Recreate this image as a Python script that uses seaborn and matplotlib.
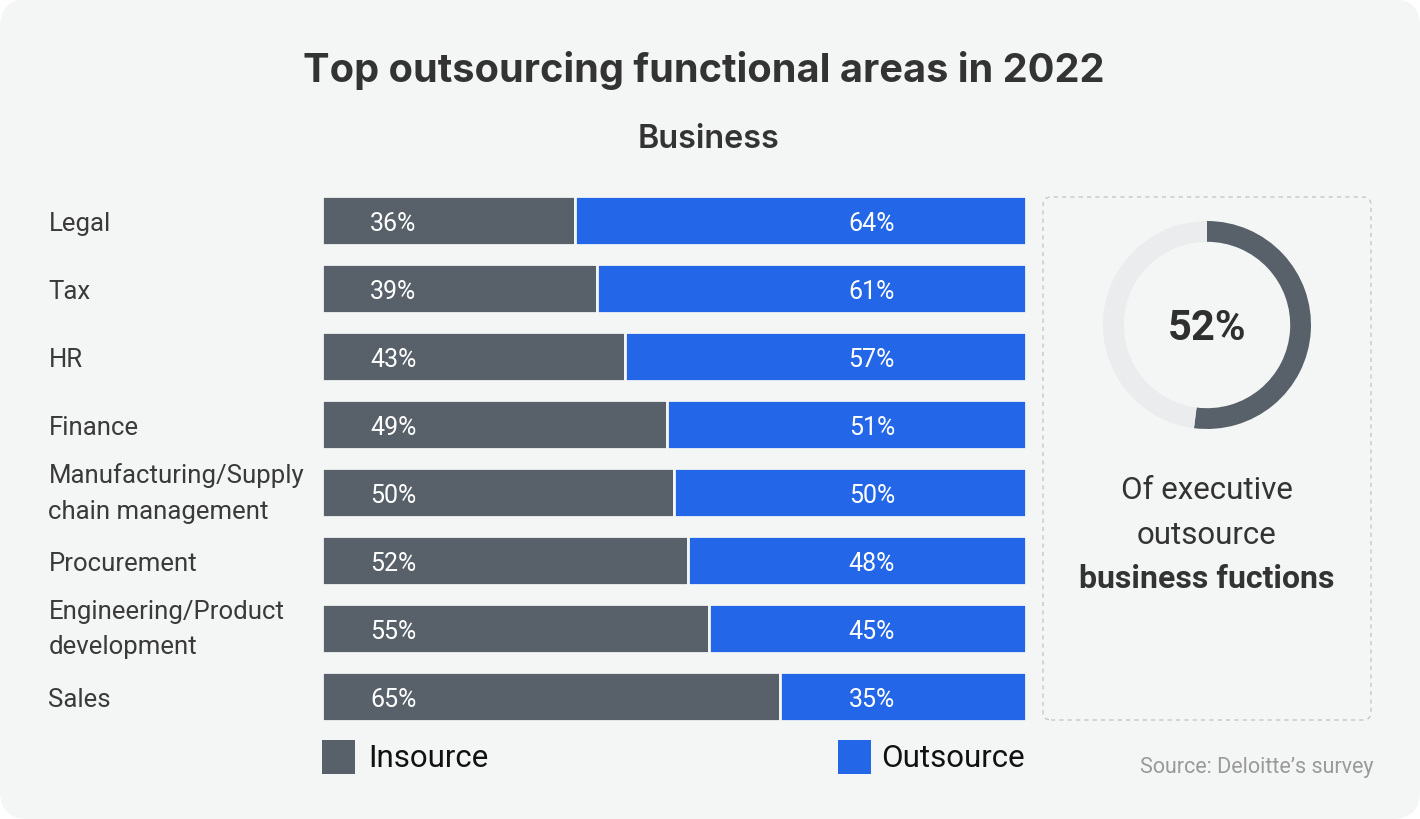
import numpy as np
import matplotlib
matplotlib.use("Agg")
import matplotlib.pyplot as plt
import seaborn as sns
from matplotlib.patches import FancyBboxPatch, Rectangle
from matplotlib.transforms import IdentityTransform

# ---------------- data ----------------
categories = ["Legal", "Tax", "HR", "Finance",
              "Manufacturing/Supply\nchain management", "Procurement",
              "Engineering/Product\ndevelopment", "Sales"]
insource = [36, 39, 43, 49, 50, 52, 55, 65]
outsource = [64, 61, 57, 51, 50, 48, 45, 35]
donut_value = 52
title = "Top outsourcing functional areas in 2022"
subtitle = "Business"
legend_labels = ["Insource", "Outsource"]
source_text = "Source: Deloitte\u2019s survey"

# ---------------- style ----------------
W, H = 1420, 820
BG = "#f4f5f5"
C_IN = "#58616a"
C_OUT = "#2367e8"
TXT = "#333333"

sns.set_style("white")
plt.rcParams["font.family"] = ["Roboto", "DejaVu Sans"]

fig = plt.figure(figsize=(W / 100, H / 100), dpi=100)
fig.patch.set_facecolor("white")

def fx(x):
    return x / W

def fy(y):
    return 1 - y / H

# card background (pixel coordinates)
card = FancyBboxPatch((0, 0), W, H, boxstyle="round,pad=0,rounding_size=28",
                      transform=IdentityTransform(), facecolor=BG,
                      edgecolor="none", zorder=-10)
fig.patches.append(card)

# dashed panel
panel = FancyBboxPatch((1043, H - 721), 1371 - 1043, 721 - 198,
                       boxstyle="round,pad=0,rounding_size=8",
                       transform=IdentityTransform(), facecolor="none",
                       edgecolor="#c4c6c8", linewidth=1.0, linestyle=(0, (3, 3)),
                       zorder=-5)
fig.patches.append(panel)

# titles
fig.text(fx(704), fy(71), title, ha="center", va="center", fontsize=28.6,
         fontweight="bold", color=TXT, family=["Inter", "Roboto", "DejaVu Sans"])
fig.text(fx(709), fy(140), subtitle, ha="center", va="center", fontsize=23.3,
         fontweight="semibold", color=TXT, family=["Inter", "Roboto", "DejaVu Sans"])

# ---------------- bars ----------------
ax = fig.add_axes([fx(322), fy(731.5), (1026 - 322) / W, 544 / H])
ax.set_facecolor("none")
pos = np.arange(len(categories))
bar_h = 0.73
sns.barplot(x=insource, y=categories, orient="h", color=C_IN, width=bar_h,
            edgecolor=BG, linewidth=2, saturation=1, ax=ax)
ax.barh(pos, outsource, left=insource, height=bar_h, color=C_OUT,
        edgecolor=BG, linewidth=2)
ax.set_xlim(0, 100)
ax.set_ylim(len(categories) - 0.5, -0.5)
ax.set_xlabel("")
ax.set_ylabel("")
ax.set_xticks([])
ax.set_yticks(pos)
ax.set_yticklabels(categories)
for s in ax.spines.values():
    s.set_visible(False)
ax.tick_params(axis="y", length=0, pad=197)
for lab in ax.get_yticklabels():
    lab.set_horizontalalignment("left")
    lab.set_fontsize(18.5)
    lab.set_color("#3a3a3a")
    lab.set_linespacing(1.6)
    if "\n" in lab.get_text():
        lab.set_verticalalignment("center")

IN_LABEL_X = 10.1
OUT_LABEL_X = 78.1
for i, (a, b) in enumerate(zip(insource, outsource)):
    ax.text(IN_LABEL_X, i + 0.04, f"{a}%", ha="center", va="center",
            color="white", fontsize=18)
    ax.text(OUT_LABEL_X, i + 0.04, f"{b}%", ha="center", va="center",
            color="white", fontsize=18)

# ---------------- legend ----------------
fig.patches.append(Rectangle((322, H - 775), 33, 34, transform=IdentityTransform(),
                             facecolor=C_IN, edgecolor="none"))
fig.text(fx(368), fy(759), legend_labels[0], ha="left", va="center",
         fontsize=22.5, color="#111111")
fig.patches.append(Rectangle((838, H - 775), 33, 34, transform=IdentityTransform(),
                             facecolor=C_OUT, edgecolor="none"))
fig.text(fx(1025), fy(759), legend_labels[1], ha="right", va="center",
         fontsize=22.5, color="#111111")

fig.text(fx(1373), fy(768), source_text, ha="right", va="center", fontsize=15.5,
         color="#9a9a9a")

# ---------------- donut ----------------
r = 104
dax = fig.add_axes([fx(1207 - r), fy(326 + r), 2 * r / W, 2 * r / H])
dax.pie([donut_value, 100 - donut_value], colors=[C_IN, "#ebeced"],
        startangle=90, counterclock=False, radius=1,
        wedgeprops=dict(width=0.2, edgecolor="none"))
dax.set_xlim(-1, 1)
dax.set_ylim(-1, 1)
dax.set_aspect("equal")
dax.axis("off")
dax.text(0, -0.02, f"{donut_value}%", ha="center", va="center", fontsize=30,
         fontweight="bold", color="#2f2f2f")

fig.text(fx(1207), fy(491), "Of executive", ha="center", va="center",
         fontsize=22.5, color=TXT)
fig.text(fx(1207), fy(535), "outsource", ha="center", va="center",
         fontsize=22.5, color=TXT)
fig.text(fx(1207), fy(579), "business fuctions", ha="center", va="center",
         fontsize=23, fontweight="bold", color=TXT)

fig.savefig("out.png", dpi=100, facecolor=fig.get_facecolor())
